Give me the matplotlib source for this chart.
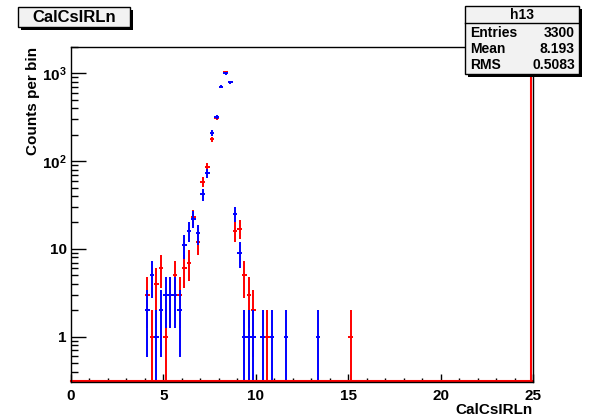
import numpy as np
import matplotlib
matplotlib.use('Agg')
import matplotlib.pyplot as plt
from matplotlib.patches import Rectangle
from matplotlib.ticker import FixedLocator, FixedFormatter, MultipleLocator

plt.rcParams['font.family'] = ['Liberation Sans', 'DejaVu Sans']
plt.rcParams['font.weight'] = 'bold'
plt.rcParams['mathtext.fontset'] = 'custom'
plt.rcParams['mathtext.rm'] = 'Liberation Sans:bold'
plt.rcParams['mathtext.bf'] = 'Liberation Sans:bold'
plt.rcParams['mathtext.it'] = 'Liberation Sans:bold'

# bin centres (bin width 0.25) and counts
red_x = [4.125, 4.375, 4.625, 4.875, 5.125, 5.375, 5.625, 5.875, 6.125, 6.375,
         6.625, 6.875, 7.125, 7.375, 7.625, 7.875, 8.125, 8.375, 8.625, 8.875,
         9.125, 9.375, 9.625, 9.875, 10.625, 15.125]
red_n = [3, 1, 4, 6, 1, 3, 5, 3, 6, 7,
         23, 12, 58, 86, 177, 310, 700, 1043, 790, 16,
         17, 5, 3, 2, 1, 1]

blue_x = [4.125, 4.375, 4.625, 4.875, 5.125, 5.375, 5.625, 5.875, 6.125, 6.375,
          6.625, 6.875, 7.125, 7.375, 7.625, 7.875, 8.125, 8.375, 8.625, 8.875,
          9.125, 9.375, 9.625, 9.875, 10.375, 10.875, 11.625, 13.375]
blue_n = [2, 5, 1, 2, 3, 3, 3, 2, 11, 16,
          22, 15, 42, 73, 210, 320, 703, 1000, 790, 25,
          9, 1, 1, 1, 1, 1, 1, 1]

bin_half = 0.125
x_ticks = [0, 5, 10, 15, 20, 25]
y_ticks = [1, 10, 100, 1000]
y_tick_labels = ['1', '10', '$10^{2}$', '$10^{3}$']
stats = [('Entries', '3300'), ('Mean', '8.193'), ('RMS', '0.5083')]

W, H = 589, 420
fig = plt.figure(figsize=(W / 100, H / 100), dpi=100)
ax = fig.add_axes([71 / W, 1 - 382 / H, (533 - 71) / W, (382 - 46.7) / H])


def draw_hist(x, n, color):
    x = np.array(x, dtype=float)
    n = np.array(n, dtype=float)
    err = np.sqrt(n)
    lo = np.where(n - err <= 0, n - 1e-3, err)
    ax.errorbar(x, n, xerr=bin_half, yerr=[lo, err], fmt='none',
                ecolor=color, elinewidth=1.4, capsize=0)


draw_hist(red_x, red_n, '#ff0000')
draw_hist(blue_x, blue_n, '#0000ff')

ax.set_yscale('log')
ax.set_xlim(0, 25)
ax.set_ylim(0.305, 2010)

# red outline along the bottom and right edge
ax.plot([0, 1], [0.004, 0.004], transform=ax.transAxes, color='#ff0000', lw=1.5, clip_on=False)
ax.plot([0.996, 0.996], [0, 1], transform=ax.transAxes, color='#ff0000', lw=1.5, clip_on=False)

ax.xaxis.set_major_locator(FixedLocator(x_ticks))
ax.xaxis.set_minor_locator(MultipleLocator(1))
ax.yaxis.set_major_locator(FixedLocator(y_ticks))
ax.yaxis.set_major_formatter(FixedFormatter(y_tick_labels))
minor_y = [m * 10.0 ** e for e in range(-1, 4) for m in range(2, 10)]
ax.yaxis.set_minor_locator(FixedLocator(minor_y))
ax.yaxis.set_minor_formatter(FixedFormatter([''] * len(minor_y)))

ax.tick_params(axis='x', which='major', direction='in', length=6, width=1, labelsize=11, pad=5)
ax.tick_params(axis='x', which='minor', direction='in', length=3, width=1)
ax.tick_params(axis='y', which='major', direction='in', length=11, width=1, labelsize=11, pad=3)
ax.tick_params(axis='y', which='minor', direction='in', length=5, width=1)
for sp in ax.spines.values():
    sp.set_linewidth(1.0)

fig.text(533 / W, 1 - 410 / H, 'CalCsIRLn', ha='right', va='center', fontsize=11, weight='bold')
fig.text(33 / W, 1 - 47 / H, 'Counts per bin', ha='center', va='top', rotation=90,
         fontsize=11, weight='bold')


def box(x0, y0, x1, y1, shadow=3):
    fig.add_artist(Rectangle(((x0 + shadow) / W, 1 - (y1 + shadow) / H), (x1 - x0) / W, (y1 - y0) / H,
                             transform=fig.transFigure, facecolor='black', edgecolor='black', lw=0))
    fig.add_artist(Rectangle((x0 / W, 1 - y1 / H), (x1 - x0) / W, (y1 - y0) / H,
                             transform=fig.transFigure, facecolor='#f2f2f2', edgecolor='black', lw=1))


# title box
box(18, 7, 130, 27)
fig.text(74 / W, 1 - 17.5 / H, 'CalCsIRLn', ha='center', va='center', fontsize=12, weight='bold')

# stats box
box(465, 6, 579, 74)
fig.add_artist(plt.Line2D([465 / W, 579 / W], [1 - 23 / H, 1 - 23 / H], transform=fig.transFigure,
                          color='black', lw=1))
fig.text(522 / W, 1 - 15 / H, 'h13', ha='center', va='center', fontsize=10, weight='bold')
for i, (k, v) in enumerate(stats):
    yy = 1 - (33 + 16 * i) / H
    fig.text(470 / W, yy, k, ha='left', va='center', fontsize=10, weight='bold')
    fig.text(575 / W, yy, v, ha='right', va='center', fontsize=10, weight='bold')

fig.savefig('out.png', dpi=100, facecolor='white')
